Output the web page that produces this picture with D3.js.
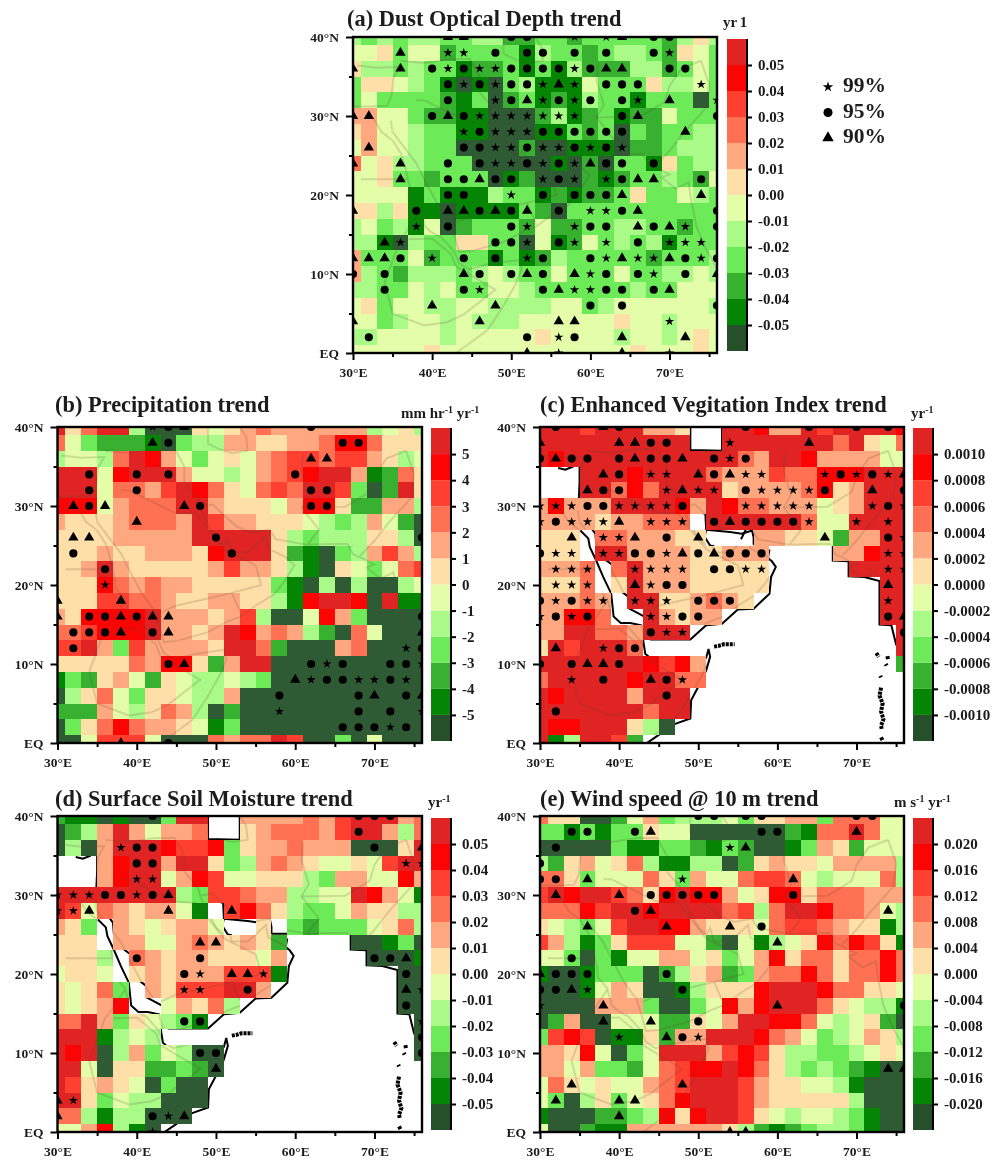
<!DOCTYPE html>
<html>
<head>
<meta charset="utf-8">
<script src="https://cdn.jsdelivr.net/npm/d3@7"></script>
<style>
  body { margin: 0; background: #fff; }
  svg { filter: blur(0.45px); }
  text { font-family: "Liberation Serif", serif; font-weight: bold; fill: #1c1c1c; }
</style>
</head>
<body>
<svg id="chart" width="995" height="1161"></svg>
<script>
// colour class of each 2 degree cell (0 darkest green .. b darkest red, "." no data)
// rows run 40N -> EQ, columns run 30E -> 76E
const dustRows = [
  "434344 334422 332333 332464", "556355 233331 433234 432653", "644343 312231 314222 442353",
  "366543 101034 111533 364453", "353333 213023 121433 133303", "775532 211000 241231 225333",
  "675543 311000 113230 323344", "575543 300002 001110 223444", "856443 330000 010203 316344",
  "556332 333012 000212 334325", "555513 111433 121223 633543", "664611 011113 203333 333333",
  "453415 023332 522334 433233", "441043 366330 512534 341333", "733352 333131 243333 323334",
  "743244 434543 353335 334454", "443354 533554 333333 433555", "563554 455444 455345 555554",
  "553455 454445 555556 554555", "445555 455555 655554 554565", "555556 555555 555555 655565"
];
const precipRows = [
  "b68bb4 000656 787777 774564", "853222 103447 766778 aa8666", "45548b a75356 578998 997645",
  "bbb5ab bb7554 5789ab b71286", "bbb588 79ba86 5898bb 9302b6", "aaa578 88bb76 6657aa 622774",
  "766678 887b97 766654 347520", "666677 777bbb bb6434 446640", "666766 7776ab bb6210 347974",
  "667b76 666679 776410 653589", "666a87 877666 663104 040045", "666998 876677 6641ab ba0b11",
  "76aaaa b77767 94005a 730000", "889aaa b7767b a78742 085000", "99b739 77776b b82000 780000",
  "666668 7aa627 bb0000 000000", "132675 265445 430000 000000", "046853 665447 000000 000000",
  "222754 687402 000000 000000", "0368a8 776513 000000 000000", "005999 500087 88b900 305000"
];
const eviRows = [
  "bbb9bb b776.. bba77b 9bbbba", "bbbbbb bbbb.. bbbbbb b8b658", "babbbb bbbbbb b87bba 777755",
  "...bbb abbbb8 777988 aaabbb", "...bb8 a8bbbb 677778 a67bbb", "7a777b bbba7b a88777 567bbb",
  "777767 7888.b bbbbb8 55bbbb", "666.88 77766. ..7766 5277bb", "666.bb 777766 777... .77abb",
  "7778.8 b77766 666... ..bbbb", "6668.6 b77766 666... ....bb", "77787. bb6678 76.... ....bb",
  "77aa8. .b7677 ...... ....bb", "77bb88 7bbb.. ...... .....b", "6b9bbb 8..... ...... .....b",
  "bbbbbb ba9a7. ...... .....2", "8bbbbb abb88. ...... ......", "babbbb 7bbb.. ...... ......",
  "bbbbbb b8bb.. ...... ......", "baabbb 640... ...... ......", "b14bb9 2..... ...... ......"
];
const soilRows = [
  "211010 03bb.. 777787 9bbb78", "0247b7 5778.. 678887 9bb748", "0407bb ba99a3 677877 70006b",
  "...7ab b7bb63 478765 5659bb", "...7ab b57a95 566643 7755a7", "bbbbbb bb4399 877445 5ba751",
  "b95876 7751.9 a86433 576644", "763.76 56775. .6.323 335684", "666.77 557876 762... .00130",
  "6664.8 767766 657... ..0001", "5665.6 767779 991... ....00", "65683. 76999b b7.... ....00",
  "6567a. .57684 ...... ....00", "88b736 5431.. ...... .....0", "bbb145 4..... ...... .....0",
  "bab047 35400. ...... .....0", "bb5066 22320. ...... ......", "b96765 0300.. ...... ......",
  "bb6354 4000.. ...... ......", "884144 000... ...... ......", "557a41 0..... ...... ......"
];
const windRows = [
  "866002 573444 536677 388855", "331313 365500 000021 88b855", "000003 113321 320013 762555",
  "426756 841144 026766 577774", "886355 586375 589985 455584", "9babb9 86abaa 756aa6 888777",
  "888a9b babbbb 8948bb a88754", "654359 bbaa76 665899 876614", "974136 999552 051456 a8a961",
  "553031 557756 357a68 8688a8", "100133 302467 23788a 8688a8", "000157 600146 66abbb a88665",
  "000077 730035 a7abbb 865441", "027005 552265 7bbaa8 545620", "39a901 16277b bba875 345764",
  "776a50 35bbb7 9a9644 334565", "775733 2589aa ba8643 432100", "586565 5789bb b97665 541000",
  "530463 568abb b97666 664000", "100022 34a6ab b96545 543100", "500211 777777 642123 443100"
];

// significance marks per latitude: s = 99%, c = 95%, t = 90%, followed by longitude
const dustSig = [
  [40, "t42 t44 c50 c52 s58 s62 t64 c68 c70"],
  [38, "t36 s42 s44 c48 c52 c54 c58 c62 c68 s70"],
  [36, "t30 t36 c40 s42 c44 s46 s48 c50 c52 c54 c56 s58 c60 t62 t64 c70 c72"],
  [34, "c42 s44 c46 s48 c50 c52 s54 t56 s58 c62 c64 c66 s74"],
  [32, "c42 s48 c50 t52 s54 c56 s58 c60 c64 s66 t70 s76"],
  [30, "t30 t32 c40 t42 c44 s46 s48 s50 s52 s54 s56 s58 c64 t66 c76"],
  [28, "s44 c46 s48 s50 s52 c54 c56 c58 c60 c62 c64 t72"],
  [26, "t32 c44 c46 s48 s50 c52 s54 s56 c58 s60 c62 s64"],
  [24, "t30 t36 c42 c46 s48 s50 c52 s54 c56 s58 t60 c62 c64 c68"],
  [22, "t36 c42 c44 t46 c48 c50 s54 c56 s58 s62 c64 t66 t68 c74"],
  [20, "c42 c44 s50 c54 c58 c60 c62 t64 t74"],
  [18, "t30 c38 t42 t44 c46 t48 c50 t52 c56 s60 s62 c64 t66 c76"],
  [16, "s38 c42 c50 s52 s58 c60 c62 t66 c68 t70 s72 c76"],
  [14, "t34 s36 c48 c50 s52 c56 s58 s62 c66 s70 s72 s74"],
  [12, "t30 t32 t34 c36 s40 c44 c48 s52 c54 c60 s62 t64 s66 s68 t70 c72 s74 c76"],
  [10, "c30 c34 t44 c46 c50 t52 c54 t58 s60 c62 c66 s68 c72 t76"],
  [8, "c34 c44 s46 c54 t56 s58 s60 c62 c64 c68 t70"],
  [6, "t40 t48 c60 c64 c76"],
  [4, "t30 t46 t56 t58 s70"],
  [2, "c32 c52 s56 c58 t64 t72"],
  [0, "t52 s56 t64 s70"]
];
const precipSig = [
  [40, "s42 c44 t46 c62"],
  [38, "t42 c44 c66 c68"],
  [36, "t62 t64"],
  [34, "c34 c40 c44 c60"],
  [32, "c34 c40 c62 c64"],
  [30, "t32 c34 t36 t46 c48 c62 c64"],
  [28, "t40"],
  [26, "t32 t34 c50 c76"],
  [24, "c32 c52"],
  [22, "c36"],
  [20, "s36"],
  [18, "t30 t38"],
  [16, "t30 c34 c36 t38 c40 t42 t44 c76"],
  [14, "c32 c34 c36 t38 c42 t44 t76"],
  [12, "c32 s74 c76"],
  [10, "c44 t46 c62 s64 c66 c72 c74 s76"],
  [8, "t60 s62 c64 c66 s68 s70 c72 s74"],
  [6, "c58 c68 t70 c74 t76"],
  [4, "s58 c68 c72 s76"],
  [2, "c66 c68 c70 s72 c74"],
  [0, "t38 c44"]
];
const eviSig = [
  [40, "c32 t38 c40 c56 c64 c70 c74"],
  [38, "t30 t40 t42 c44 c46 s54 t64"],
  [36, "c30 t32 c34 c36 c40 t42 c44 c46 t48 c52 s54 c56"],
  [34, "t38 c40 s44 s46 t50 c52 t54 s56 s58 s66 c68 s70 c72 s74 t76"],
  [32, "t36 c38 c40 s46 t48 s50 s52 c56 s58 s60 s62 s64 c66 t72 c76"],
  [30, "s30 s32 s34 c36 c38 s40 s42 s44 s46 c48 s56 s58 s60 s62 s64 s72 c74 s76"],
  [28, "s30 c32 s34 s36 s38 t40 s44 s46 s48 c52 t54 c56 c58 c60 c62 s64 s70 s74"],
  [26, "t34 s38 s40 t42 c46 t50 t66 c74 s76"],
  [24, "c30 s32 s34 s38 s40 c42 c44 s46 t48 c50 t52 c54 c56 c58 s74 s76"],
  [22, "s32 s34 s36 s42 s44 s46 s48 c52 c54 s56 s58 s74 s76"],
  [20, "s32 s34 s36 t42 s44 c46 c48 t74"],
  [18, "c30 s32 c34 s36 s38 s42 s44 s46 c50 c52 c54 s74"],
  [16, "s30 c32 s34 c36 s44 s46 c48 c50 c74 t76"],
  [14, "c44 s46 s48 c76"],
  [12, "t32 s38 c40 c42"],
  [10, "c30 c34 t36 t38 c40"],
  [8, "s34 c38 t44 c46 s48"],
  [6, "c46"],
  [4, "c32"]
];
const soilSig = [
  [40, "c42 c68 c70 c72"],
  [38, "c68"],
  [36, "s38 c40 c42 c70 t76"],
  [34, "c40 c42 s74 s76"],
  [32, "s40 s42"],
  [30, "s30 s32 s34 c36 c38 s40 c42 t44"],
  [28, "s30 s32 t34 t44 t52"],
  [24, "t48 t50"],
  [22, "c40 c48 c70 c72 t74"],
  [20, "c46 s48 t52 t54 s56 c74"],
  [18, "s46 s48 c54 t74 s76"],
  [16, "c74"],
  [14, "c46 c48 s76"],
  [12, "c76"],
  [10, "c48 c50 c76"],
  [8, "t50"],
  [4, "t30 s32"],
  [2, "t30 c42 s44 t46"],
  [0, "s42"]
];
const windSig = [
  [40, "c50 c52 c56 c58 c70 c72"],
  [38, "c34 c36 c42 t44 c58 c60 t70"],
  [36, "c32 s54 t56"],
  [34, "c30"],
  [32, "c30 c32 t36 s48 t62"],
  [30, "t32 t40 c44 c46 c48 c50 c52 c62"],
  [28, "c42 t44 t74"],
  [26, "t36 t46 t54 c58"],
  [24, "t60"],
  [22, "c34"],
  [20, "t30 c32 c34 c36 c46"],
  [18, "c30 c32 t34 s36 c48"],
  [16, "s30 t38 t60 c76"],
  [14, "t38 t44 c50"],
  [12, "s40 t46 c48 s50"],
  [8, "t74 t76"],
  [6, "t34 t48"],
  [4, "t32 t40 t42"],
  [2, "t40"],
  [0, "t54 t56"]
];

// colour bar tick labels, top to bottom
const dustTicks = ["0.05","0.04","0.03","0.02","0.01","0.00","-0.01","-0.02","-0.03","-0.04","-0.05"];
const precipTicks = ["5","4","3","2","1","0","-1","-2","-3","-4","-5"];
const eviTicks = ["0.0010","0.0008","0.0006","0.0004","0.0002","0.0000","-0.0002","-0.0004","-0.0006","-0.0008","-0.0010"];
const windTicks = ["0.020","0.016","0.012","0.008","0.004","0.000","-0.004","-0.008","-0.012","-0.016","-0.020"];

const levelColors = ["#2f5b34","#048604","#38b030","#6cea58","#aafa88","#e3fda8",
                     "#ffdfa8","#ffa880","#ff7152","#ff4030","#fc0404","#e02424"];
const lonMajor = [30,40,50,60,70], lonMinor = [35,45,55,65,75];
const latMajor = [40,30,20,10,0], latMinor = [35,25,15,5];
const lonLabels = ["30°E","40°E","50°E","60°E","70°E"];
const latLabels = ["40°N","30°N","20°N","10°N","EQ"];
const legendNames = ["99%","95%","90%"];

// shoreline drawn black, mostly hidden under the cells, [lon, lat]
const shoreLevant = [[30,30.8],[34.9,30.8],[35,33],[35,35.2]];
const shoreCyprus = [[32.3,34.8],[33.2,34.6],[34.2,35]];
const shoreAfrica = [[35.1,26.9],[36.1,25.9],[36.3,24.8],[37.1,23.1],[38,21],[39,18.9],[39.3,16],[40.2,15.2],[41.4,15.2],[42.8,14.9],
  [43.1,12.6],[43.3,11.3],[43.9,10.8],[51,10.8],[51.3,11.9],[51.5,10.9],[51,9.2],[50.2,7.5],[49.1,5.4],[49,3.1],[47,2.4],[44.7,0.8],[43.5,0]];
const shoreArabia = [[35.5,28.5],[37,26.5],[37.2,24],[39.2,22.5],[39.2,20],[41.2,18.5],[41.3,17],[43.2,16],[43.2,13.5],[44,13.1],[49,13.1],
  [51,14.9],[53,15.1],[55,16.9],[57,17],[59,18.9],[59.2,21],[59.8,22.3],[59.3,23],[58.8,23.4],[59,24.5]];
const shoreGulf = [[49,29.5],[50.9,29],[51,27],[50.8,26.1],[51.5,25],[52,24.9]];
const shoreIran = [[51,27],[54,26.7],[55.5,26.5],[56.8,26.9],[57,26],[57,25.1]];
const shoreMusandam = [[56,27],[55.4,25.8]];
const shoreIndia = [[57,25.1],[67,25.1],[67,23.1],[69,23],[69,21.1],[71,21],[72.9,20.5],[72.9,15],[74.4,14.9],[75,12.5],[75.9,11],[76.2,10]];
const shoreCaspian = [[49,40],[49,37.1],[53,37],[53,40]];
const shoreLines = [shoreLevant, shoreCyprus, shoreAfrica, shoreArabia, shoreGulf, shoreIran, shoreMusandam, shoreIndia, shoreCaspian];
// small islands
const isleSocotra = [[52,12.2],[52.6,12.3],[53.2,12.5],[54.6,12.5]];
const isleMaldives = [[73.1,7],[72.9,6],[73.3,5],[73.1,4],[73.4,3],[73.1,2.2],[73.2,1.7]];
const isleAddu = [[73.1,0.7],[73.3,0.3]];
const isleLak1 = [[72.5,11.4],[72.8,10.9]];
const isleLak2 = [[73.9,11],[74,10.5]];
const isleLak3 = [[73.7,10],[73.8,9.8]];
const isleLak4 = [[73,8.5],[73.1,8.3]];
const isleLines = [isleSocotra, isleMaldives, isleAddu, isleLak1, isleLak2, isleLak3, isleLak4];

// faint map on top of the cells, [lon, lat]
const coastLevant = [[30,31.2],[32.3,31.2],[34.3,31.3],[34.9,32.6],[35.1,34.8],[35.9,36.2],[33,36.1],[30.5,36.4]];
const coastAfrica = [[32.4,30],[33.6,28],[35,26.9],[36.1,25.2],[36.7,23.1],[37.2,21],[37.3,19.6],[38.5,18.2],[39.1,16],
  [39.9,15.3],[41.2,14.6],[42.8,12.8],[43.4,11.4],[44.6,10.6],[47,11.2],[51,11.8],[51.3,10.6],[50.6,8.8],[48.9,5.8],[47,2.9],[44.7,1.2],[43,0]];
const coastArabia = [[34.8,29.4],[35,28],[36.5,26],[38,24],[39.2,21.6],[40.6,19],[42.2,16.8],[42.9,14.6],[43.4,12.8],[45,12.9],[48.9,14],
  [51.5,15.4],[53.1,16],[55.2,17.5],[57.3,18.8],[58.6,20.4],[59.9,22.5],[58.7,23.6],[56.6,24.6],[56.3,26.2],[55.2,25.2],[54,24.1],[52,24.1],
  [51.5,25.8],[51,25],[50.1,25.8],[48.8,28],[48,29.9],[49.6,30.2],[51,28.8],[52.6,27.4],[54.5,26.6],[56.8,27],[57.5,25.8],[61.5,25.1],
  [64.5,25.2],[66.6,25.2],[67.3,23.9],[68.6,23.3],[70,22.6],[69,22.2],[70.8,20.8],[72.4,21.6],[72.8,19],[73.4,16],[74.6,13.2],[75.6,11.4],[76.2,10]];
const coastCaspian = [[49,40],[49,37.9],[50.4,37.2],[52,36.7],[54,37],[53.8,38.8],[53,40]];
const borderEgypt = [[31,22],[36.9,22]];
const borderIraq = [[36,37],[39,36.7],[42.3,37.2],[44.8,37.2],[46,35],[46,33],[47.7,31],[48,30]];
const borderSaudi = [[38,32],[39,32],[44.7,29.2],[47.5,29],[51,24.5],[55,22.5],[55.7,20],[52,19],[49,18.3],[45,17.4],[43,16.5]];
const borderIran = [[61,36.6],[60.8,34.4],[61.7,31.4],[60.8,29.8],[63,27],[61.6,25.2]];
const borderPak = [[60.8,29.8],[66.3,29.9],[69.4,31.8],[70,33.8],[71.5,36],[74,37]];
const borderIndia = [[74,37],[75,34],[74.6,31],[71.8,27.9],[70,25.6],[68.2,23.7]];
const borderNile = [[35,5],[34,9],[36,14.4],[36.5,15],[38.5,18]];
const borderEthiopia = [[35,5],[39,3.5],[41.9,3.9],[44,4.9],[48,8],[43,11],[42.4,12.5],[40,14.5],[37,14.4]];
const borderOman = [[52,19],[53,16.7]];
const mapLines = [coastLevant, coastAfrica, coastArabia, coastCaspian, borderEgypt, borderIraq, borderSaudi,
                  borderIran, borderPak, borderIndia, borderNile, borderEthiopia, borderOman];

const rowLats = d3.range(40, -2, -2);
const colLons = d3.range(30, 78, 2);
const symbolOf = { s: d3.symbolStar, c: d3.symbolCircle, t: d3.symbolTriangle };
const sizeOf = { s: 27, c: 52, t: 46 };
const symbolPath = k => d3.symbol(symbolOf[k], sizeOf[k])();

const svg = d3.select('#chart');
const color = d3.scaleThreshold().domain(d3.range(1, 12)).range(levelColors);

const panels = [
  { id: 'a', title: '(a) Dust Optical Depth trend', rows: dustRows, sig: dustSig, ticks: dustTicks,
    box: [353, 717, 37, 353], barX: 727, barY: [39, 351], titleX: 347, titleY: 26,
    unit: ['yr', ' ', '1'], unitX: 723, unitY: 27 },
  { id: 'b', title: '(b) Precipitation trend', rows: precipRows, sig: precipSig, ticks: precipTicks,
    box: [57.5, 422, 427, 743], barX: 431, barY: [428, 741], titleX: 55, titleY: 412,
    unit: ['mm hr', '-1', ' yr', '-1'], unitX: 401, unitY: 418 },
  { id: 'c', title: '(c) Enhanced Vegitation Index trend', rows: eviRows, sig: eviSig, ticks: eviTicks,
    box: [540, 904, 427, 743], barX: 913, barY: [428, 741], titleX: 540, titleY: 412,
    unit: ['yr', '-1'], unitX: 911, unitY: 418 },
  { id: 'd', title: '(d) Surface Soil Moisture trend', rows: soilRows, sig: soilSig, ticks: dustTicks,
    box: [57.5, 422, 816, 1132], barX: 431, barY: [818, 1130], titleX: 55, titleY: 806,
    unit: ['yr', '-1'], unitX: 428, unitY: 807 },
  { id: 'e', title: '(e) Wind speed @ 10 m trend', rows: windRows, sig: windSig, ticks: windTicks,
    box: [540, 904, 816, 1132], barX: 913, barY: [818, 1130], titleX: 540, titleY: 806,
    unit: ['m s', '-1', ' yr', '-1'], unitX: 894, unitY: 807 }
];

function drawPanel(p) {
  const [x0, x1, y0, y1] = p.box;
  const x = d3.scaleLinear().domain([30, 76]).range([x0, x1]);
  const y = d3.scaleLinear().domain([40, 0]).range([y0, y1]);
  const g = svg.append('g');

  svg.append('clipPath').attr('id', 'clip-' + p.id)
    .append('rect').attr('x', x0).attr('y', y0).attr('width', x1 - x0).attr('height', y1 - y0);
  const plot = g.append('g').attr('clip-path', `url(#clip-${p.id})`);

  const line = d3.line().x(d => x(d[0])).y(d => y(d[1]));

  // black shore sits under the cells, only shows where there is no data
  plot.selectAll('path.shore').data(shoreLines).join('path')
    .attr('class', 'shore').attr('d', line)
    .attr('fill', 'none').attr('stroke', '#000').attr('stroke-width', 2);
  plot.selectAll('path.isle').data(isleLines).join('path')
    .attr('class', 'isle').attr('d', line)
    .attr('fill', 'none').attr('stroke', '#000').attr('stroke-width', 4).attr('stroke-dasharray', '3 1');

  const cells = [];
  p.rows.forEach((row, r) => {
    row.replace(/ /g, '').split('').forEach((c, i) => {
      if (c !== '.') cells.push({ lat: rowLats[r], lon: colLons[i], level: parseInt(c, 12) });
    });
  });
  plot.selectAll('rect.cell').data(cells).join('rect')
    .attr('class', 'cell')
    .attr('x', d => x(d.lon - 1))
    .attr('y', d => y(d.lat + 1))
    .attr('width', d => x(d.lon + 1) - x(d.lon - 1))
    .attr('height', d => y(d.lat - 1) - y(d.lat + 1))
    .attr('fill', d => color(d.level + 0.5))
    .attr('shape-rendering', 'crispEdges');

  // faint map over the cells, only where there is a cell below
  svg.append('clipPath').attr('id', 'land-' + p.id).selectAll('rect').data(cells).join('rect')
    .attr('x', d => x(d.lon - 1))
    .attr('y', d => y(d.lat + 1))
    .attr('width', d => x(d.lon + 1) - x(d.lon - 1))
    .attr('height', d => y(d.lat - 1) - y(d.lat + 1));
  plot.append('g').attr('clip-path', `url(#land-${p.id})`)
    .selectAll('path.map').data(mapLines).join('path')
    .attr('class', 'map').attr('d', line)
    .attr('fill', 'none').attr('stroke', '#5a4a30').attr('stroke-opacity', 0.18).attr('stroke-width', 2);

  const marks = [];
  p.sig.forEach(([lat, list]) => {
    list.split(' ').forEach(m => marks.push({ lat, lon: +m.slice(1), kind: m[0] }));
  });
  plot.selectAll('path.mark').data(marks).join('path')
    .attr('class', 'mark')
    .attr('transform', d => `translate(${x(d.lon)},${y(d.lat)})`)
    .attr('d', d => symbolPath(d.kind))
    .attr('fill', '#000');

  g.append('rect').attr('x', x0).attr('y', y0).attr('width', x1 - x0).attr('height', y1 - y0)
    .attr('fill', 'none').attr('stroke', '#000').attr('stroke-width', 2.4);

  // axes
  const axisStyle = sel => {
    sel.select('.domain').remove();
    sel.selectAll('line').attr('stroke', '#000').attr('stroke-width', 2);
    sel.selectAll('text').style('font-size', '13.5px');
  };
  g.append('g').attr('transform', `translate(0,${y1})`)
    .call(d3.axisBottom(x).tickValues(lonMajor).tickSize(7).tickPadding(7)
      .tickFormat((d, i) => lonLabels[i]))
    .call(axisStyle);
  g.append('g').attr('transform', `translate(0,${y1})`)
    .call(d3.axisBottom(x).tickValues(lonMinor).tickSize(4).tickFormat(''))
    .call(axisStyle);
  g.append('g').attr('transform', `translate(${x0},0)`)
    .call(d3.axisLeft(y).tickValues(latMajor).tickSize(7).tickPadding(7)
      .tickFormat((d, i) => latLabels[i]))
    .call(axisStyle);
  g.append('g').attr('transform', `translate(${x0},0)`)
    .call(d3.axisLeft(y).tickValues(latMinor).tickSize(4).tickFormat(''))
    .call(axisStyle);

  g.append('text').attr('x', p.titleX).attr('y', p.titleY).style('font-size', '22.4px').text(p.title);

  // colour bar
  const barW = 20;
  const bar = d3.scaleLinear().domain([0, 12]).range([p.barY[1], p.barY[0]]);
  g.selectAll('rect.seg').data(levelColors).join('rect')
    .attr('class', 'seg')
    .attr('x', p.barX).attr('width', barW)
    .attr('y', (d, i) => bar(i + 1))
    .attr('height', (d, i) => bar(i) - bar(i + 1))
    .attr('fill', d => d === levelColors[0] ? '#26502a' : d);
  g.append('g').attr('transform', `translate(${p.barX + barW},0)`)
    .call(d3.axisRight(bar).tickValues(d3.range(1, 12)).tickSize(5).tickPadding(6)
      .tickFormat(d => p.ticks[11 - d]))
    .call(sel => {
      sel.select('.domain').attr('stroke', '#000').attr('stroke-width', 2).attr('d', `M0,${p.barY[0]}V${p.barY[1]}`);
      sel.selectAll('line').attr('stroke', '#000').attr('stroke-width', 2);
      sel.selectAll('text').style('font-size', '15px');
    });

  // unit, odd parts are superscripts
  const unit = g.append('text').attr('x', p.unitX).attr('y', p.unitY).style('font-size', '15px');
  p.unit.forEach((t, i) => {
    const sup = i % 2 === 1;
    unit.append('tspan').attr('dy', i === 0 ? 0 : (sup ? -5 : 5))
      .style('font-size', sup ? '10px' : '15px').attr('xml:space', 'preserve').text(t);
  });
}

panels.forEach(drawPanel);

// legend of panel (a)
const legendY = d3.scalePoint().domain(legendNames).range([87, 138]);
const legendKinds = ['s', 'c', 't'];
legendNames.forEach((name, i) => {
  svg.append('path')
    .attr('transform', `translate(828,${legendY(name)})`)
    .attr('d', d3.symbol(symbolOf[legendKinds[i]], sizeOf[legendKinds[i]] * 1.25)())
    .attr('fill', '#000');
  svg.append('text').attr('x', 843).attr('y', legendY(name) + 5)
    .style('font-size', '21.5px').text(name);
});
</script>
</body>
</html>
